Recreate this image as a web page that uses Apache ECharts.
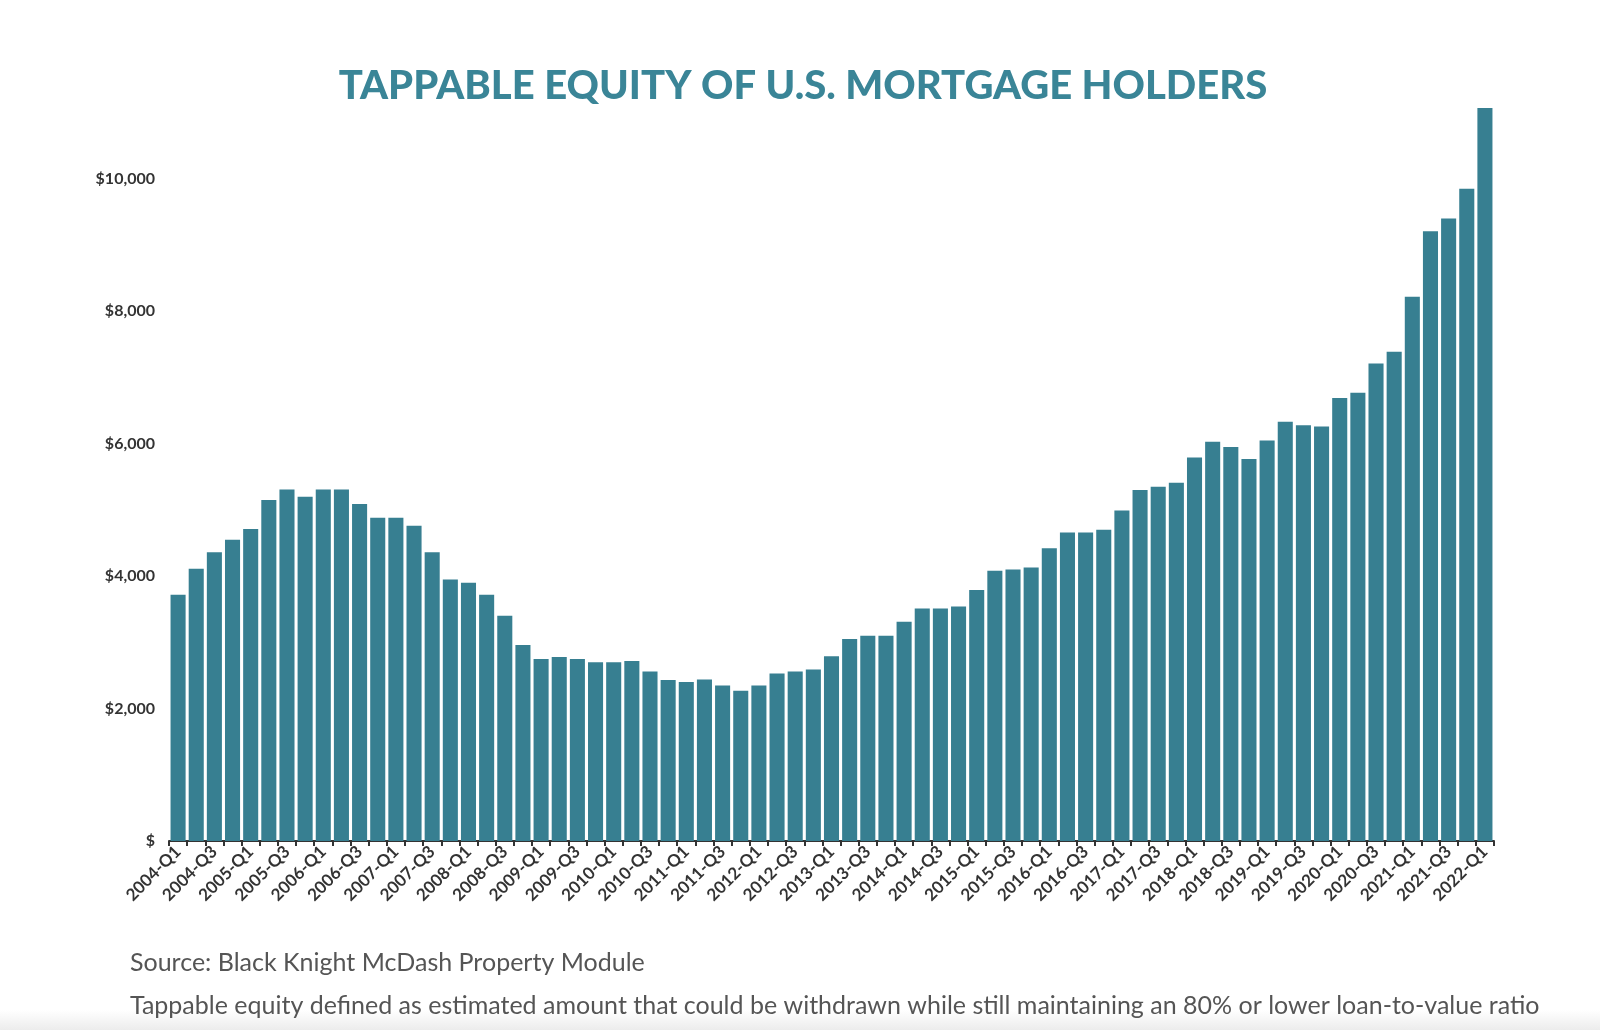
<!DOCTYPE html>
<html>
<head>
<meta charset="utf-8">
<title>Tappable Equity of U.S. Mortgage Holders</title>
<script src="https://cdn.jsdelivr.net/npm/echarts@6/dist/echarts.min.js"></script>
<style>
    html, body { margin: 0; padding: 0; background: #fff; }
    #main { width: 1600px; height: 1030px; }
</style>
</head>
<body>
<div id="main"></div>
<script>
// quarters 2004-Q1 .. 2022-Q1
var years = [2004, 2005, 2006, 2007, 2008, 2009, 2010, 2011, 2012,
    2013, 2014, 2015, 2016, 2017, 2018, 2019, 2020, 2021, 2022];
var quarters = ['Q1', 'Q2', 'Q3', 'Q4'];

// tappable equity, $ billions
var equity = [
    3720, 4110, 4360, 4550, 4710, 5150, 5310, 5200, 5310, 5310,
    5090, 4880, 4880, 4760, 4360, 3950, 3900, 3720, 3400, 2960,
    2750, 2780, 2750, 2700, 2700, 2720, 2560, 2430, 2400, 2440,
    2350, 2270, 2350, 2530, 2560, 2590, 2790, 3050, 3100, 3100,
    3310, 3510, 3510, 3540, 3790, 4080, 4100, 4130, 4420, 4660,
    4660, 4700, 4990, 5300, 5350, 5410, 5790, 6030, 5950, 5770,
    6050, 6330, 6280, 6260, 6690, 6770, 7210, 7390, 8220, 9210,
    9400, 9850, 11070
];

var yTicks = [0, 2000, 4000, 6000, 8000, 10000];

var categories = [];
years.forEach(function (y) {
    quarters.forEach(function (q) {
        categories.push(y + '-' + q);
    });
});
categories = categories.slice(0, equity.length);

var myChart = echarts.init(document.getElementById('main'));
var option = {
    backgroundColor: '#fff',
    animation: false,
    title: {
        text: 'TAPPABLE EQUITY OF U.S. MORTGAGE HOLDERS',
        left: 798,
        top: 61,
        textAlign: 'center',
        textStyle: {
            fontFamily: 'Lato',
            fontWeight: 900,
            fontSize: 40,
            color: '#3a8597'
        }
    },
    grid: {
        left: 169,
        right: 106,
        top: 106,
        bottom: 189
    },
    xAxis: {
        type: 'category',
        data: categories,
        axisLine: { lineStyle: { color: '#333', width: 2 } },
        axisTick: { show: true, interval: 0, length: 5, lineStyle: { color: '#333', width: 2 } },
        axisLabel: {
            interval: 1,
            rotate: 45,
            margin: 8,
            fontFamily: 'Lato',
            fontWeight: 'bold',
            fontSize: 17,
            color: '#333'
        }
    },
    yAxis: {
        type: 'value',
        min: 0,
        max: 11100,
        interval: 2000,
        axisLine: { show: false },
        axisTick: { show: false },
        splitLine: { show: false },
        axisLabel: {
            margin: 14,
            fontFamily: 'Lato',
            fontWeight: 'bold',
            fontSize: 16,
            color: '#333',
            formatter: function (v) {
                if (yTicks.indexOf(v) < 0) return '';
                return v === 0 ? '$' : '$' + v.toLocaleString('en-US');
            }
        }
    },
    series: [{
        type: 'bar',
        data: equity,
        barCategoryGap: '17%',
        itemStyle: { color: '#377f91' }
    }],
    graphic: [
        {
            type: 'text',
            left: 130,
            top: 950,
            style: {
                text: 'Source: Black Knight McDash Property Module',
                font: '25px Lato',
                fill: '#555'
            }
        },
        {
            type: 'text',
            left: 130,
            top: 993,
            style: {
                text: 'Tappable equity defined as estimated amount that could be withdrawn while still maintaining an 80% or lower loan-to-value ratio',
                font: '25px Lato',
                fill: '#555'
            }
        },
        {
            type: 'rect',
            left: 0,
            top: 1010,
            z: -1,
            shape: { width: 1600, height: 20 },
            style: {
                fill: new echarts.graphic.LinearGradient(0, 0, 0, 1, [
                    { offset: 0, color: '#ffffff' },
                    { offset: 1, color: '#ececec' }
                ])
            }
        }
    ]
};
myChart.setOption(option);
</script>
</body>
</html>
